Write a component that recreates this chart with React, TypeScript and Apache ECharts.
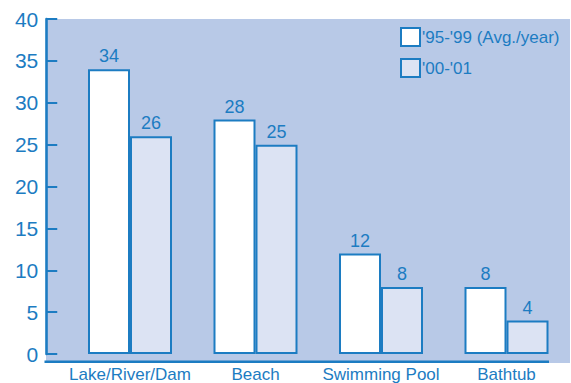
import React, { useEffect, useRef } from "react";
import * as echarts from "echarts";

const categories = ["Lake/River/Dam", "Beach", "Swimming Pool", "Bathtub"];
const seriesNames = ["'95-'99 (Avg./year)", "'00-'01"];
const avg9599 = [34, 28, 12, 8];
const total0001 = [26, 25, 8, 4];

const BLUE = "#1c7cc2";
const PANEL = "#b8c9e7";
const LIGHT = "#dce3f3";
const FONT = "'Liberation Sans', Arial, Helvetica, sans-serif";

export default function App() {
  const ref = useRef<HTMLDivElement>(null);

  useEffect(() => {
    if (!ref.current) return;
    const chart = echarts.init(ref.current, null, { renderer: "svg" });
    const barLabel = {
      show: true,
      position: "top" as const,
      color: BLUE,
      fontSize: 18,
      fontFamily: FONT,
      distance: 4,
    };
    chart.setOption({
      animation: false,
      textStyle: { fontFamily: FONT },
      graphic: [
        // panel behind the plot, reaching left to the value axis
        {
          type: "rect",
          z: -100,
          shape: { x: 46, y: 19, width: 524, height: 344 },
          style: { fill: PANEL },
          silent: true,
        },
        // baseline from the value axis to the last bar
        {
          type: "line",
          z: 100,
          shape: { x1: 44.5, y1: 361.8, x2: 549, y2: 361.8 },
          style: { stroke: BLUE, lineWidth: 2.6 },
          silent: true,
        },
      ],
      grid: { left: 67.25, right: 1.75, top: 19, bottom: 22.5 },
      legend: {
        orient: "vertical",
        left: 400,
        top: 27,
        padding: 0,
        itemWidth: 19,
        itemHeight: 18,
        itemGap: 11,
        icon: "rect",
        textStyle: { color: BLUE, fontSize: 17, fontFamily: FONT, padding: [0, 0, 0, -3] },
        data: seriesNames,
      },
      xAxis: {
        type: "category",
        data: categories,
        axisLine: { show: false },
        axisTick: { show: false },
        axisLabel: { color: BLUE, fontSize: 17, fontFamily: FONT, margin: 12, interval: 0 },
      },
      yAxis: {
        type: "value",
        min: 0,
        max: 40,
        interval: 5,
        offset: 21,
        splitLine: { show: false },
        axisLine: { show: true, lineStyle: { color: BLUE, width: 2.6 } },
        axisTick: { show: true, inside: true, length: 11, lineStyle: { color: BLUE, width: 2 } },
        axisLabel: { color: BLUE, fontSize: 21, fontFamily: FONT, margin: 8 },
      },
      series: [
        {
          name: seriesNames[0],
          type: "bar",
          data: avg9599,
          barWidth: 42,
          barGap: "0%",
          itemStyle: { color: "#ffffff", borderColor: BLUE, borderWidth: 2 },
          label: barLabel,
        },
        {
          name: seriesNames[1],
          type: "bar",
          data: total0001,
          barWidth: 42,
          itemStyle: { color: LIGHT, borderColor: BLUE, borderWidth: 2 },
          label: barLabel,
        },
      ],
    });
    return () => chart.dispose();
  }, []);

  return (
    <div
      ref={ref}
      style={{ position: "absolute", left: 0, top: 0, width: 571, height: 383, overflow: "hidden" }}
    />
  );
}
